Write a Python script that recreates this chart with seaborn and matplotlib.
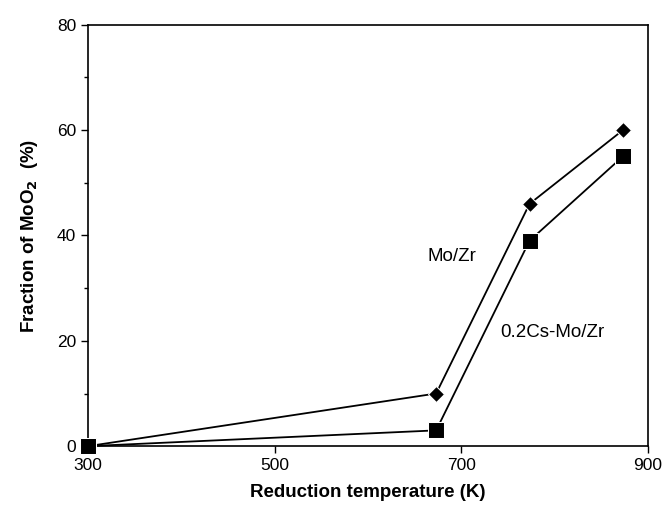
import matplotlib
matplotlib.use("Agg")
import matplotlib.pyplot as plt
import seaborn as sns
import pandas as pd
from matplotlib.ticker import MultipleLocator, FixedLocator

# Data
temperature = [300, 673, 773, 873]
mo_zr = [0, 10, 46, 60]
cs_mo_zr = [0, 3, 39, 55]
x_ticks = [300, 500, 700, 900]

sns.set_style("ticks")
plt.rcParams['font.family'] = ['Liberation Sans', 'DejaVu Sans']
plt.rcParams['text.color'] = 'black'
plt.rcParams['axes.labelcolor'] = 'black'

df = pd.DataFrame({
    "T": temperature * 2,
    "frac": mo_zr + cs_mo_zr,
    "sample": ["Mo/Zr"] * 4 + ["0.2Cs-Mo/Zr"] * 4,
})

fig = plt.figure(figsize=(6.64, 5.17), dpi=100)
ax = fig.add_axes([0.1325, 0.137, 0.8435, 0.815])

sns.lineplot(data=df, x="T", y="frac", hue="sample", style="sample",
             markers={"Mo/Zr": "D", "0.2Cs-Mo/Zr": "s"}, dashes=False,
             palette={"Mo/Zr": "black", "0.2Cs-Mo/Zr": "black"},
             linewidth=1.3, legend=False, ax=ax)
for line, ms in zip(ax.lines, [8, 11]):
    line.set_markersize(ms)
    line.set_clip_on(False)
    line.set_zorder(5)

ax.set_xlim(300, 900)
ax.set_ylim(0, 80)
ax.xaxis.set_major_locator(FixedLocator(x_ticks))
ax.yaxis.set_major_locator(MultipleLocator(20))
ax.yaxis.set_minor_locator(MultipleLocator(10))
ax.tick_params(which="both", direction="out", labelsize=12.5, width=1, colors="black")
ax.tick_params(which="major", length=5)
ax.tick_params(which="minor", length=3)
for s in ax.spines.values():
    s.set_linewidth(1.2)
    s.set_color("black")

ax.set_xlabel("Reduction temperature (K)", fontsize=13.5, fontweight="bold", labelpad=8)
ax.set_ylabel("Fraction of MoO$_\\mathbf{2}$  (%)", fontsize=13.5, fontweight="bold", labelpad=12)

ax.text(690, 36, "Mo/Zr", fontsize=13.5, ha="center", va="center")
ax.text(797, 21.5, "0.2Cs-Mo/Zr", fontsize=13.5, ha="center", va="center")

fig.savefig("out.png", dpi=100)
